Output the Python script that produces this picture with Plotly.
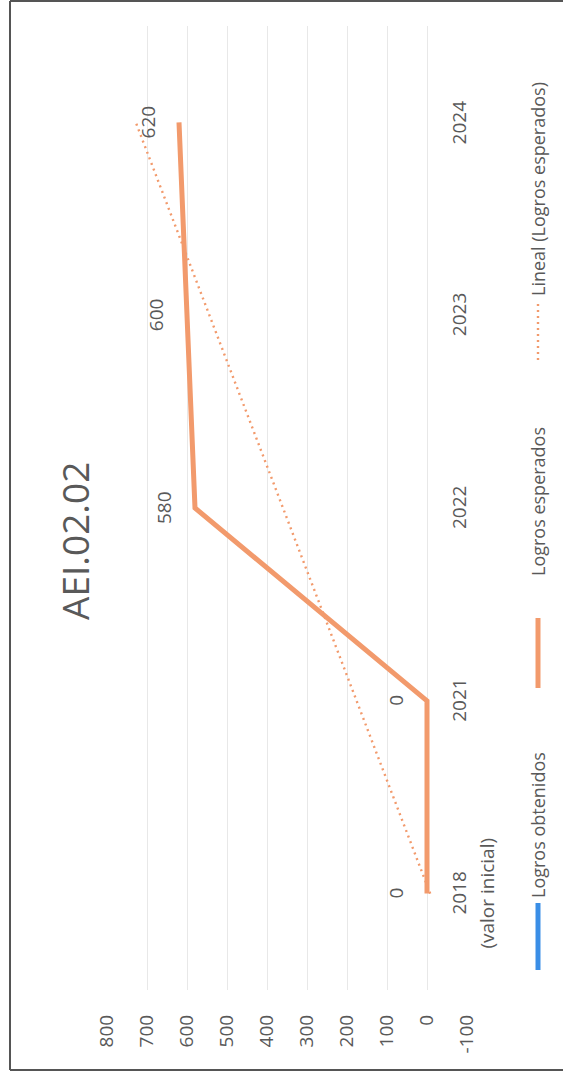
import numpy as np
import plotly.graph_objects as go

# ---------------- data ----------------
title_text = "AEI.02.02"
categories = ["2018<br>(valor inicial)", "2021", "2022", "2023", "2024"]
logros_esperados = [0, 0, 580, 600, 620]
logros_obtenidos = []          # no values plotted
value_ticks = [-100, 0, 100, 200, 300, 400, 500, 600, 700, 800]
series_names = ["Logros obtenidos", "Logros esperados", "Lineal (Logros esperados)"]

# ---------------- layout geometry ----------------
W, H = 563, 1077
PL, PR, PT, PB = 107, 467, 26, 990   # plot area in pixels


def fx(xp):
    return (xp - PL) / (PR - PL)


def fy(yp):
    return (PB - yp) / (PB - PT)


FONT = "Open Sans"
GRAY = "#595959"
ORANGE = "#F29A6C"
BLUE = "#3A8EE6"
DOTS = "2px,4px"

pos = list(range(len(categories)))

# linear trend line (as Excel's "Lineal" trendline) from the series itself
coef = np.polyfit(np.arange(1, len(logros_esperados) + 1), logros_esperados, 1)
trend_vals = list(np.polyval(coef, np.arange(1, len(logros_esperados) + 1)))

fig = go.Figure()
fig.add_trace(go.Scatter(x=logros_obtenidos, y=[], mode="lines",
                         line=dict(color=BLUE, width=5), name=series_names[0],
                         showlegend=False))
fig.add_trace(go.Scatter(x=trend_vals, y=pos, mode="lines",
                         line=dict(color=ORANGE, width=2.4, dash=DOTS),
                         name=series_names[2], showlegend=False))
fig.add_trace(go.Scatter(x=logros_esperados, y=pos, mode="lines",
                         line=dict(color=ORANGE, width=5), name=series_names[1],
                         showlegend=False))

annotations = []
# data labels (rotated)
for v, p in zip(logros_esperados, pos):
    annotations.append(dict(x=v, y=p, xref="x", yref="y", text=str(v),
                            showarrow=False, textangle=-90, xshift=-31,
                            xanchor="center", yanchor="middle",
                            font=dict(family=FONT, size=19, color=GRAY)))
# category labels next to the zero line (one annotation per text line)
for c, p in zip(categories, pos):
    for k, line in enumerate(c.split("<br>")):
        annotations.append(dict(x=0, y=p, xref="x", yref="y", text=line,
                                showarrow=False, textangle=-90,
                                xshift=32 + 28 * k,
                                xanchor="center", yanchor="middle",
                                font=dict(family=FONT, size=19, color=GRAY)))
# title
annotations.append(dict(x=fx(74), y=fy(541), xref="paper", yref="paper",
                        text=title_text, showarrow=False, textangle=-90,
                        xanchor="center", yanchor="middle",
                        font=dict(family=FONT, size=37, color=GRAY)))
# legend texts
legend_text_y = [825, 502, 189]
for name, yc in zip(series_names, legend_text_y):
    annotations.append(dict(x=fx(538), y=fy(yc), xref="paper", yref="paper",
                            text=name, showarrow=False, textangle=-90,
                            xanchor="center", yanchor="middle",
                            font=dict(family=FONT, size=18, color=GRAY)))

shapes = [
    # legend keys
    dict(type="line", xref="paper", yref="paper", x0=fx(538), x1=fx(538),
         y0=fy(970), y1=fy(903), line=dict(color=BLUE, width=5)),
    dict(type="line", xref="paper", yref="paper", x0=fx(538), x1=fx(538),
         y0=fy(688), y1=fy(618), line=dict(color=ORANGE, width=5)),
    dict(type="line", xref="paper", yref="paper", x0=fx(538), x1=fx(538),
         y0=fy(360), y1=fy(300), line=dict(color=ORANGE, width=2.4, dash=DOTS)),
    # outer frame (left, top, bottom)
    dict(type="line", xref="paper", yref="paper", x0=fx(10), x1=fx(10),
         y0=fy(1), y1=fy(1070), line=dict(color="#555555", width=2)),
    dict(type="line", xref="paper", yref="paper", x0=fx(10), x1=fx(563),
         y0=fy(1), y1=fy(1), line=dict(color="#555555", width=2)),
    dict(type="line", xref="paper", yref="paper", x0=fx(10), x1=fx(563),
         y0=fy(1070), y1=fy(1070), line=dict(color="#555555", width=2)),
]

fig.update_layout(
    width=W, height=H,
    margin=dict(l=PL, r=W - PR, t=PT, b=H - PB),
    paper_bgcolor="white", plot_bgcolor="white",
    showlegend=False,
    annotations=annotations,
    shapes=shapes,
    xaxis=dict(range=[800, -100], tickvals=value_ticks,
               ticktext=[str(v) for v in value_ticks], tickangle=-90,
               showgrid=True, gridcolor="#E8E8E8", gridwidth=1,
               zeroline=False, showline=False, ticks="",
               ticklabelstandoff=20,
               tickfont=dict(family=FONT, size=19, color=GRAY)),
    yaxis=dict(range=[-0.5, len(categories) - 0.5], showgrid=False,
               zeroline=False, showticklabels=False, showline=False),
)

fig.write_html("out.html",
               config={"displayModeBar": False},
               post_script="document.body.style.margin='0';"
                           "document.body.style.overflow='hidden';")
